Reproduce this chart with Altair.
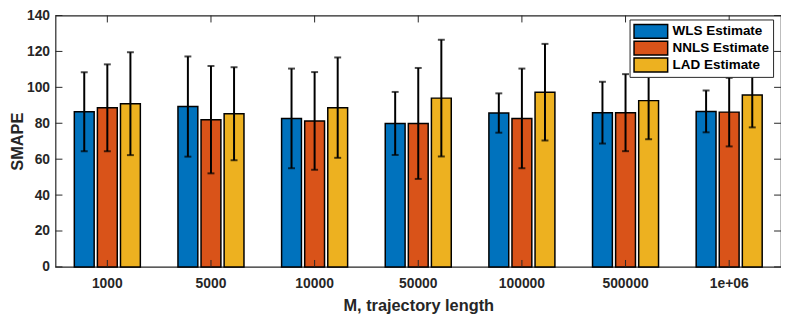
import altair as alt
import pandas as pd

categories = ["1000", "5000", "10000", "50000", "100000", "500000", "1e+06"]
series = ["WLS Estimate", "NNLS Estimate", "LAD Estimate"]
colors = ["#0072BD", "#D95319", "#EDB120"]

wls_mean = [86.4, 89.3, 82.7, 79.9, 85.7, 85.9, 86.6]
wls_err = [22.0, 27.9, 27.75, 17.55, 10.95, 17.2, 11.65]
nnls_mean = [88.6, 82.0, 81.3, 79.9, 82.7, 85.9, 86.2]
nnls_err = [24.2, 29.9, 27.2, 30.9, 27.75, 21.45, 19.1]
lad_mean = [90.9, 85.3, 88.7, 94.0, 97.3, 92.6, 95.8]
lad_err = [28.65, 25.9, 27.95, 32.5, 26.9, 21.5, 18.1]

y_ticks = [0, 20, 40, 60, 80, 100, 120, 140]

W = 733
H = 254
FONT = "Liberation Sans"
INK = "#262626"

rows = []
for s, means, errs in zip(series, [wls_mean, nnls_mean, lad_mean], [wls_err, nnls_err, lad_err]):
    for c, m, e in zip(categories, means, errs):
        rows.append({"cat": c, "series": s, "mean": m, "lo": m - e, "hi": m + e})
df = pd.DataFrame(rows)
df_cat = pd.DataFrame({"cat": categories})
df_y = pd.DataFrame({"v": y_ticks})

xscale = alt.Scale(paddingInner=0, paddingOuter=0)
yscale = alt.Scale(domain=[0, 140], nice=False, zero=True)
offscale = alt.Scale(paddingInner=0.14, paddingOuter=0.815)

x_axis = alt.Axis(
    title="M, trajectory length", labelAngle=0, ticks=False, domain=False,
    labelFont=FONT, labelFontSize=14, labelFontWeight="bold", labelColor=INK,
    labelPadding=10, labelOverlap=False,
    titleFont=FONT, titleFontSize=16.5, titleFontWeight="bold",
    titleColor=INK, titleBaseline="alphabetic", titleY=44, grid=False,
)
y_axis = alt.Axis(
    title="SMAPE", values=y_ticks, ticks=False, domain=False, grid=False,
    labelFont=FONT, labelFontSize=14, labelFontWeight="bold", labelColor=INK,
    labelPadding=6, labelOverlap=False, labelFlush=False, labelBound=False,
    titleFont=FONT, titleFontSize=16.5, titleFontWeight="bold",
    titleColor=INK, titleBaseline="alphabetic", titleX=-33, titleAngle=-90,
)

off_enc = alt.XOffset("series:N", sort=series, scale=offscale)
x_enc = alt.X("cat:N", sort=categories, scale=xscale, axis=x_axis)

bars = alt.Chart(df).mark_bar(stroke="black", strokeWidth=1.5).encode(
    x=x_enc,
    y=alt.Y("mean:Q", scale=yscale, axis=y_axis),
    xOffset=off_enc,
    color=alt.Color(
        "series:N", sort=series, scale=alt.Scale(domain=series, range=colors),
        legend=alt.Legend(
            title=None, orient="none", legendX=580, legendY=4,
            symbolType="M-1,-0.41H1V0.41H-1Z", symbolSize=1156,
            symbolStrokeColor="black", symbolStrokeWidth=1.5, symbolOpacity=1,
            labelFont=FONT, labelFontSize=13.6, labelFontWeight="bold", labelColor="black",
            labelOffset=4, rowPadding=0, clipHeight=17, padding=3.5,
            strokeColor=INK, fillColor="white",
        ),
    ),
)

err_line = alt.Chart(df).mark_bar(size=2, color="black").encode(
    x=x_enc,
    xOffset=off_enc,
    y=alt.Y("lo:Q", scale=yscale, axis=y_axis),
    y2="hi:Q",
)
cap_lo = alt.Chart(df).mark_tick(orient="horizontal", size=7, thickness=2, color="black").encode(
    x=x_enc,
    xOffset=off_enc,
    y=alt.Y("lo:Q", scale=yscale, axis=y_axis),
)
cap_hi = alt.Chart(df).mark_tick(orient="horizontal", size=7, thickness=2, color="black").encode(
    x=x_enc,
    xOffset=off_enc,
    y=alt.Y("hi:Q", scale=yscale, axis=y_axis),
)

ytick_l = alt.Chart(df_y).mark_rule(color=INK, strokeWidth=1).encode(
    y=alt.Y("v:Q", scale=yscale, axis=y_axis), x=alt.value(0), x2=alt.value(7)
)
ytick_r = alt.Chart(df_y).mark_rule(color=INK, strokeWidth=1).encode(
    y=alt.Y("v:Q", scale=yscale, axis=y_axis), x=alt.value(W - 7), x2=alt.value(W)
)
xtick_b = alt.Chart(df_cat).mark_rule(color=INK, strokeWidth=1).encode(
    x=alt.X("cat:N", sort=categories, scale=xscale, bandPosition=0.5, axis=x_axis),
    y=alt.value(H), y2=alt.value(H - 7),
)
xtick_t = alt.Chart(df_cat).mark_rule(color=INK, strokeWidth=1).encode(
    x=alt.X("cat:N", sort=categories, scale=xscale, bandPosition=0.5, axis=x_axis),
    y=alt.value(0), y2=alt.value(7),
)

chart = alt.layer(
    bars, err_line, cap_lo, cap_hi, ytick_l, ytick_r, xtick_b, xtick_t
).properties(
    width=W, height=H,
    autosize=alt.AutoSizeParams(type="none"),
    padding={"left": 48, "top": 6, "right": 0, "bottom": 48},
    background="white",
).configure_view(stroke=INK, strokeWidth=1.2).configure_axis(labelOverlap=False)

chart.save("out.html", embed_options={"renderer": "svg", "actions": False})
